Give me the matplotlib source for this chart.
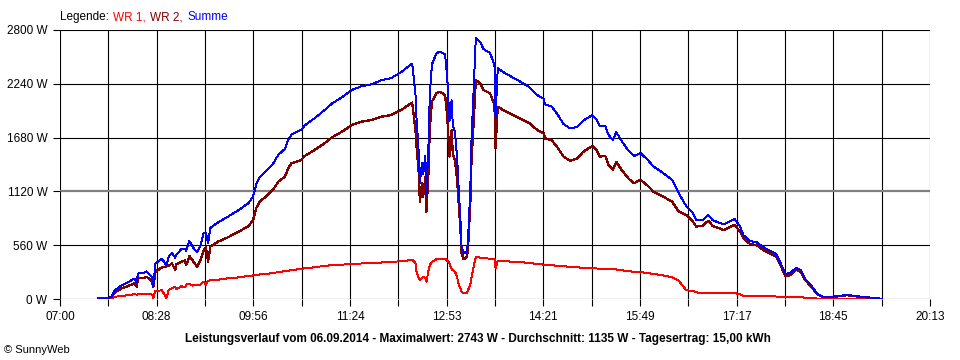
import numpy as np
import matplotlib
matplotlib.use("Agg")
import matplotlib.pyplot as plt

plt.rcParams['font.family'] = ['Liberation Sans', 'DejaVu Sans']

# time of day, WR 1 (red) and WR 2 (dark red) in W
times = ["07:35", "07:44", "07:47", "07:50", "07:56", "08:02", "08:08", "08:10", "08:11", "08:16",
         "08:19", "08:24", "08:25", "08:27", "08:33", "08:37", "08:39", "08:42", "08:45", "08:46",
         "08:51", "08:54", "08:55", "08:58", "09:01", "09:05", "09:08", "09:11", "09:13", "09:15",
         "09:17", "09:24", "09:33", "09:43", "09:52", "09:56", "09:59", "10:02", "10:07", "10:14",
         "10:19", "10:25", "10:28", "10:31", "10:40", "10:43", "10:52", "11:01", "11:08", "11:17",
         "11:26", "11:35", "11:44", "11:53", "12:02", "12:11", "12:21", "12:22", "12:24", "12:25",
         "12:27", "12:28", "12:30", "12:31", "12:33", "12:34", "12:36", "12:37", "12:39", "12:43",
         "12:46", "12:51", "12:53", "12:55", "12:57", "12:58", "13:00", "13:02", "13:03", "13:05",
         "13:06", "13:08", "13:11", "13:12", "13:14", "13:15", "13:17", "13:19", "13:23", "13:26",
         "13:32", "13:36", "13:37", "13:39", "13:44", "13:50", "13:59", "14:08", "14:15", "14:21",
         "14:22", "14:28", "14:33", "14:39", "14:45", "14:51", "14:57", "15:05", "15:09", "15:12",
         "15:17", "15:20", "15:24", "15:27", "15:32", "15:38", "15:43", "15:49", "15:55", "16:01",
         "16:10", "16:18", "16:24", "16:31", "16:36", "16:40", "16:46", "16:51", "16:55", "17:05",
         "17:11", "17:15", "17:20", "17:23", "17:29", "17:35", "17:41", "17:47", "17:53", "17:58",
         "18:01", "18:05", "18:11", "18:15", "18:19", "18:25", "18:30", "18:36", "18:42", "18:51",
         "18:57", "19:00", "19:12", "19:23", "19:29"]

wr1 = [0, 0, 5, 24, 30, 40, 50, 45, 50, 55,
       55, 45, 10, 85, 90, 10, 95, 110, 128, 100,
       135, 120, 150, 156, 140, 150, 150, 180, 150, 190,
       195, 200, 215, 225, 240, 245, 250, 255, 260, 270,
       280, 290, 295, 300, 315, 319, 330, 345, 352, 358,
       365, 370, 371, 380, 385, 395, 405, 400, 371, 284,
       215, 198, 215, 232, 220, 180, 302, 350, 388, 413,
       418, 420, 400, 371, 309, 300, 284, 230, 163, 110,
       76, 60, 59, 94, 150, 215, 336, 440, 430, 425,
       420, 415, 319, 399, 395, 390, 385, 375, 364, 358,
       356, 350, 345, 340, 335, 330, 325, 320, 318, 316,
       314, 312, 310, 308, 300, 290, 284, 280, 270, 262,
       245, 225, 190, 90, 87, 70, 59, 59, 59, 59,
       59, 62, 50, 31, 31, 30, 30, 28, 26, 24,
       24, 22, 20, 18, 14, 10, 5, 3, 3, 3,
       3, 3, 2, 1, 0]

wr2 = [5, 5, 24, 66, 111, 135, 163, 128, 215, 215,
       232, 180, 121, 284, 330, 340, 345, 371, 302, 360,
       388, 400, 350, 447, 400, 336, 400, 510, 540, 388,
       545, 597, 642, 701, 760, 822, 950, 1013, 1060, 1135,
       1221, 1273, 1360, 1412, 1447, 1488, 1551, 1620, 1683, 1742,
       1811, 1846, 1863, 1898, 1915, 1967, 2045, 1950, 1759, 1585,
       1308, 1013, 1204, 1065, 1273, 909, 1343, 1759, 2054, 2141,
       2158, 2124, 1898, 1481, 1759, 1517, 1447, 1239, 1065, 718,
       475, 413, 440, 545, 996, 1412, 1829, 2280, 2245, 2176,
       2141, 2019, 1568, 2002, 1967, 1933, 1881, 1829, 1759, 1725,
       1672, 1655, 1585, 1481, 1440, 1460, 1533, 1592, 1555, 1481,
       1490, 1395, 1343, 1429, 1343, 1256, 1204, 1239, 1187, 1117,
       1065, 1013, 909, 874, 822, 753, 765, 815, 760, 718,
       753, 770, 701, 632, 572, 560, 510, 475, 440, 319,
       240, 245, 302, 285, 198, 128, 52, 17, 20, 30,
       40, 35, 20, 10, 0]

summe = np.array(wr1) + np.array(wr2)

tick_labels = ["07:00", "08:28", "09:56", "11:24", "12:53",
               "14:21", "15:49", "17:17", "18:45", "20:13"]
y_ticks = [0, 560, 1120, 1680, 2240, 2800]

t = np.array([int(s[:2]) * 60 + int(s[3:]) - 420 for s in times])
t_end = 793

fig = plt.figure(figsize=(9.6, 3.6), dpi=100)
ax = fig.add_axes([60 / 960, 1 - 299 / 360, 870 / 960, 269 / 360])

ax.set_xlim(0, t_end)
ax.set_ylim(0, 2800)

xt = np.linspace(0, t_end, 19)
ax.set_xticks(xt)
ax.set_xticklabels([tick_labels[i // 2] if i % 2 == 0 else "" for i in range(19)], fontsize=8.5)
ax.set_yticks(y_ticks)
ax.set_yticklabels([f"{v} W" for v in y_ticks], fontsize=8.5)
ax.tick_params(length=5, width=0.8, color="black", pad=4)
ax.tick_params(axis="y", pad=4)

for x in xt:
    ax.axvline(x, color="black", lw=0.8, zorder=1)
for y in y_ticks:
    if y == 1120:
        ax.axhline(y, color="#808080", lw=1.6, zorder=1)
    else:
        ax.axhline(y, color="black", lw=0.8, zorder=1)
for s in ax.spines.values():
    s.set_visible(False)

ax.plot(t, wr1, color="#ff0000", lw=0.7, zorder=3, antialiased=False)
ax.plot(t, wr2, color="#800000", lw=0.9, zorder=4, antialiased=False)
ax.plot(t, summe, color="#0000ff", lw=0.7, zorder=5, antialiased=False)

# legend line made of coloured pieces placed one after the other
legend_parts = [("Legende: ", "black"), ("WR 1, ", "#ff0000"),
                ("WR 2, ", "#800000"), ("Summe", "#0000ff")]
renderer = fig.canvas.get_renderer()
xpos = 60
for txt, col in legend_parts:
    tx = fig.text(xpos / 960, 1 - 17 / 360, txt, fontsize=8.5, color=col, va="center")
    xpos = tx.get_window_extent(renderer).x1 + 1

fig.text(478 / 960, 1 - 339 / 360,
         "Leistungsverlauf vom 06.09.2014 - Maximalwert: 2743 W - Durchschnitt: 1135 W - Tagesertrag: 15,00 kWh",
         fontsize=8.5, fontweight="bold", ha="center", va="center")
fig.text(4 / 960, 1 - 350 / 360, "© SunnyWeb", fontsize=8, va="center")

fig.savefig("out.png", dpi=100)
